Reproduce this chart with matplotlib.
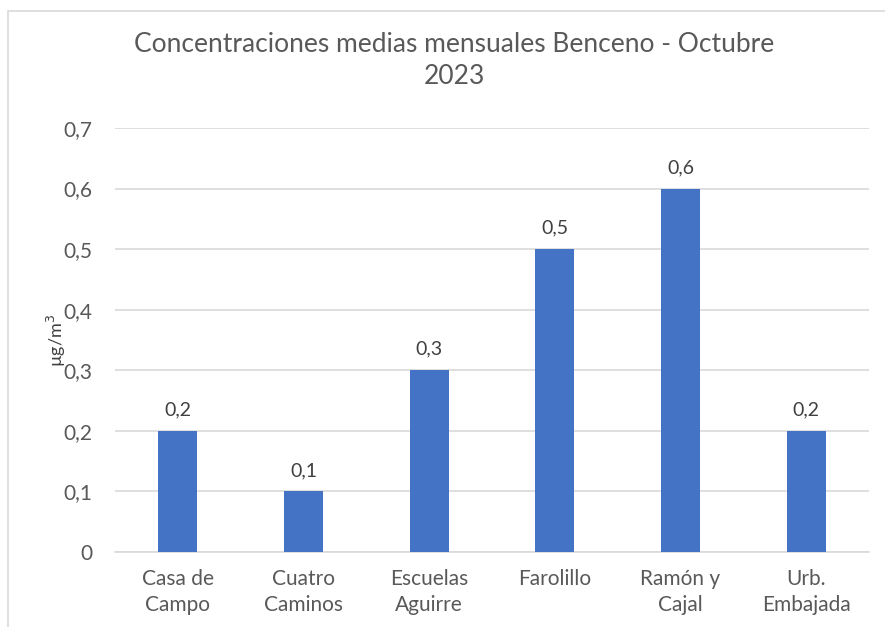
import matplotlib
matplotlib.use("Agg")
import matplotlib.pyplot as plt
from matplotlib.patches import Rectangle
from matplotlib.ticker import FuncFormatter

estaciones = ["Casa de\nCampo", "Cuatro\nCaminos", "Escuelas\nAguirre", "Farolillo", "Ramón y\nCajal", "Urb.\nEmbajada"]
valores = [0.2, 0.1, 0.3, 0.5, 0.6, 0.2]
etiquetas = ["0,2", "0,1", "0,3", "0,5", "0,6", "0,2"]
yticks = [0, 0.1, 0.2, 0.3, 0.4, 0.5, 0.6, 0.7]

plt.rcParams['font.family'] = ['Lato', 'DejaVu Sans']
gris = '#595959'

fig = plt.figure(figsize=(8.85, 6.27), dpi=100)
# marco del grafico (sin borde inferior ni derecho visibles)
fig.patches.append(Rectangle((8/885, -0.05), 1.0, 1.05 - 11/627, transform=fig.transFigure,
                             fill=False, edgecolor='#D9D9D9', linewidth=1.2))
ax = fig.add_axes([115/885, 75/627, 754/885, 424/627])

x = list(range(len(valores)))
ax.bar(x, valores, width=0.31, color='#4472C4', zorder=3)
for xi, v, t in zip(x, valores, etiquetas):
    ax.annotate(t, (xi, v), xytext=(0, 9), textcoords='offset points', ha='center', va='bottom',
                fontsize=14, color='#404040')

ax.set_xlim(-0.5, len(valores) - 0.5)
ax.set_ylim(0, 0.7)
ax.set_yticks(yticks)
ax.yaxis.set_major_formatter(FuncFormatter(lambda v, p: "0" if v == 0 else f"{v:.1f}".replace(".", ",")))
ax.set_xticks(x)
ax.set_xticklabels(estaciones, linespacing=1.4)
ax.tick_params(axis='both', length=0, labelsize=15, labelcolor=gris)
ax.tick_params(axis='y', pad=16)
ax.tick_params(axis='x', pad=12)
ax.grid(axis='y', color='#D9D9D9', linewidth=1.2, zorder=0)
for s in ['top', 'right', 'left']:
    ax.spines[s].set_visible(False)
ax.spines['bottom'].set_color('#D9D9D9')
ax.spines['bottom'].set_linewidth(1.2)

ax.set_ylabel("µg/m$^3$", fontsize=13, color='#404040', va='center')
ax.yaxis.set_label_coords(-59/754, 0.5)
fig.text(454/885, 1 - 61/627, "Concentraciones medias mensuales Benceno - Octubre\n2023",
         ha='center', va='center', fontsize=19, color=gris, linespacing=1.35)

fig.savefig("out.png", dpi=100)
